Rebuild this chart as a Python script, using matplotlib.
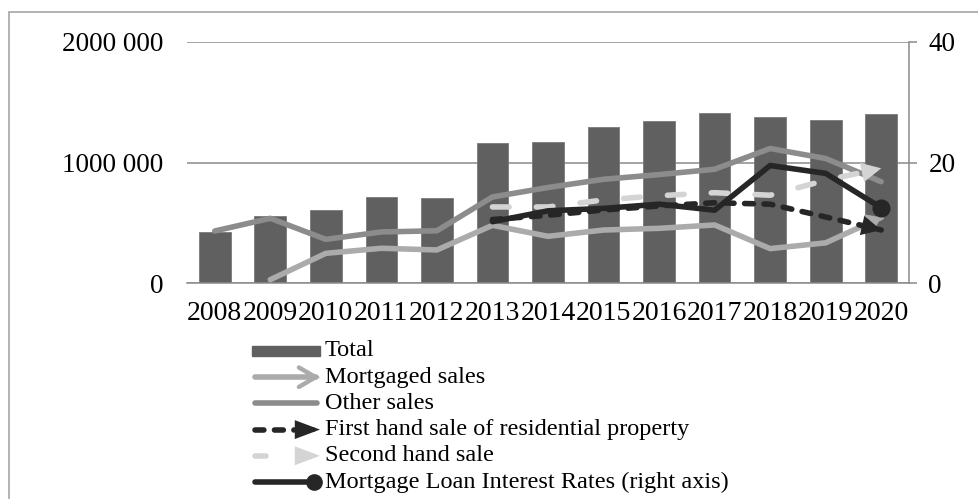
import matplotlib.pyplot as plt
import numpy as np
from matplotlib.lines import Line2D
from matplotlib.patches import Rectangle, FancyArrowPatch

plt.rcParams['font.family'] = ['Liberation Serif', 'DejaVu Serif']

# Data
years = ['2008', '2009', '2010', '2011', '2012', '2013', '2014',
         '2015', '2016', '2017', '2018', '2019', '2020']
total = [427000, 557000, 607000, 712000, 704000, 1159000, 1167000,
         1291000, 1346000, 1412000, 1379000, 1354000, 1399000]
mortgaged = [np.nan, 30000, 248000, 290000, 276000, 480000, 389000,
             441000, 455000, 483000, 287000, 335000, 545000]
other = [433000, 538000, 364000, 425000, 435000, 715000, 793000,
         861000, 900000, 944000, 1116000, 1033000, 841000]
first_hand = [np.nan] * 5 + [528000, 563000, 607000, 640000, 667000, 655000, 549000, 441000]
second_hand = [np.nan] * 5 + [632000, 632000, 690000, 725000, 750000, 729000, 853000, 952000]
interest = [np.nan] * 5 + [10.2, 12.0, 12.4, 13.1, 12.1, 19.5, 18.2, 12.5]

left_ticks = [0, 1000000, 2000000]
left_labels = ['0', '1000 000', '2000 000']
right_ticks = [0, 20, 40]

W, H = 979, 499
fig = plt.figure(figsize=(W / 100, H / 100), dpi=100)

def fx(px):
    return px / W

def fy(py):
    return 1 - py / H

ax = fig.add_axes([fx(187), fy(283.3), fx(909) - fx(187), fy(41.7) - fy(283.3)])
ax2 = ax.twinx()

x = np.arange(len(years))
grid_c = '#8a8a8a'
bar_c = '#606060'
mort_c = '#ababab'
other_c = '#8c8c8c'
dark_c = '#262626'
light_c = '#d4d4d4'
lw = 4.0
dash_dark = (0, (1.6, 1.9))
dash_light = (0, (3.0, 4.9))

ax.bar(x, total, width=0.57, color=bar_c, edgecolor='#7a7a7a', linewidth=0.6, zorder=2)

def end_arrow(axis, xs, ys, color, style):
    # arrow head at the last point, pointing along the last segment
    x1, y1 = xs[-1], ys[-1]
    x0, y0 = xs[-2], ys[-2]
    axis.annotate('', xy=(x1, y1), xytext=(x1 - 0.12 * (x1 - x0), y1 - 0.12 * (y1 - y0)),
                  arrowprops=dict(arrowstyle=style, color=color, lw=lw * 0.8,
                                  shrinkA=0, shrinkB=0, mutation_scale=1,
                                  joinstyle='miter', capstyle='round'),
                  zorder=4)

ax.plot(x, other, color=other_c, lw=lw, solid_capstyle='round', zorder=3)
ax.plot(x, mortgaged, color=mort_c, lw=lw, solid_capstyle='round', zorder=3)
end_arrow(ax, x, mortgaged, mort_c, '->,head_length=7,head_width=5')
ax.plot(x, second_hand, color=light_c, lw=lw, dash_capstyle='round',
        linestyle=dash_light, zorder=3)
end_arrow(ax, x, second_hand, light_c, '-|>,head_length=9,head_width=4.5')
ax.plot(x, first_hand, color=dark_c, lw=lw, dash_capstyle='round',
        linestyle=dash_dark, zorder=3)
end_arrow(ax, x, first_hand, dark_c, '-|>,head_length=9,head_width=4.5')

ax2.plot(x, interest, color=dark_c, lw=lw, solid_capstyle='round',
         marker='o', markevery=[len(x) - 1], markersize=12, zorder=5)

# axes styling
ax.set_xlim(-0.5, len(years) - 0.5)
ax.set_ylim(0, 2000000)
ax.set_yticks(left_ticks)
ax.set_yticklabels(left_labels)
ax.set_xticks(x)
ax.set_xticklabels(years)
ax.yaxis.grid(True, color=grid_c, lw=1.1, zorder=0)
ax.set_axisbelow(True)
ax.tick_params(axis='y', length=0, pad=17, labelsize=19.5)
ax.tick_params(axis='x', length=0, pad=13, labelsize=20)
for s in ['left', 'top', 'right']:
    ax.spines[s].set_visible(False)
ax.spines['bottom'].set_color(grid_c)
ax.spines['bottom'].set_linewidth(1.1)

ax2.set_ylim(0, 40)
ax2.set_yticks(right_ticks)
ax2.tick_params(axis='y', direction='out', length=6, width=1.1, color=grid_c, pad=8, labelsize=19.5)
for s in ['left', 'top', 'bottom']:
    ax2.spines[s].set_visible(False)
ax2.spines['right'].set_color(grid_c)
ax2.spines['right'].set_linewidth(1.1)

# legend, drawn by hand below the plot
lx0, lx1, tx = 251.7, 320, 325
rows = [351 + 26.2 * i for i in range(6)]
labels = ['Total', 'Mortgaged sales', 'Other sales',
          'First hand sale of residential property', 'Second hand sale',
          'Mortgage Loan Interest Rates (right axis)']

fig.add_artist(Rectangle((fx(lx0), fy(rows[0] + 5.3)), fx(lx1) - fx(lx0), 10.7 / H,
                         transform=fig.transFigure, color=bar_c))

def legend_line(row, color, x_end=lx1 - 3):
    fig.add_artist(Line2D([fx(lx0 + 3), fx(x_end)], [fy(row), fy(row)], transform=fig.transFigure,
                          color=color, lw=lw, solid_capstyle='round'))

def legend_arrow(row, color, style, start):
    fig.add_artist(FancyArrowPatch((fx(start), fy(row)), (fx(lx1), fy(row)), transform=fig.transFigure,
                                   arrowstyle=style, color=color, lw=lw * 0.8, mutation_scale=1,
                                   shrinkA=0, shrinkB=0, joinstyle='miter', capstyle='round'))

legend_line(rows[1], mort_c, lx1 - 4)
legend_arrow(rows[1], mort_c, '->,head_length=12,head_width=7', lx1 - 6)
legend_line(rows[2], other_c)
fig.add_artist(Line2D([fx(lx0 + 3), fx(lx1 - 26)], [fy(rows[3])] * 2, transform=fig.transFigure,
                      color=dark_c, lw=lw, linestyle=dash_dark, dash_capstyle='round'))
legend_arrow(rows[3], dark_c, '-|>,head_length=12,head_width=4.5', lx1 - 24)
legend_line(rows[4], light_c, lx0 + 14)
legend_arrow(rows[4], light_c, '-|>,head_length=12,head_width=4.5', lx1 - 22)
legend_line(rows[5], dark_c)
fig.add_artist(Line2D([fx(lx1 - 6)], [fy(rows[5])], transform=fig.transFigure,
                      color=dark_c, marker='o', markersize=11))

for r, lab in zip(rows, labels):
    fig.text(fx(tx), fy(r), lab, fontsize=17.5, va='center', ha='left')

# outer frame
fig.add_artist(Rectangle((fx(9), -0.2), 1.2, fy(12) + 0.2, transform=fig.transFigure,
                         fill=False, edgecolor='#a6a6a6', lw=1.2))

fig.savefig('out.png', dpi=100)
